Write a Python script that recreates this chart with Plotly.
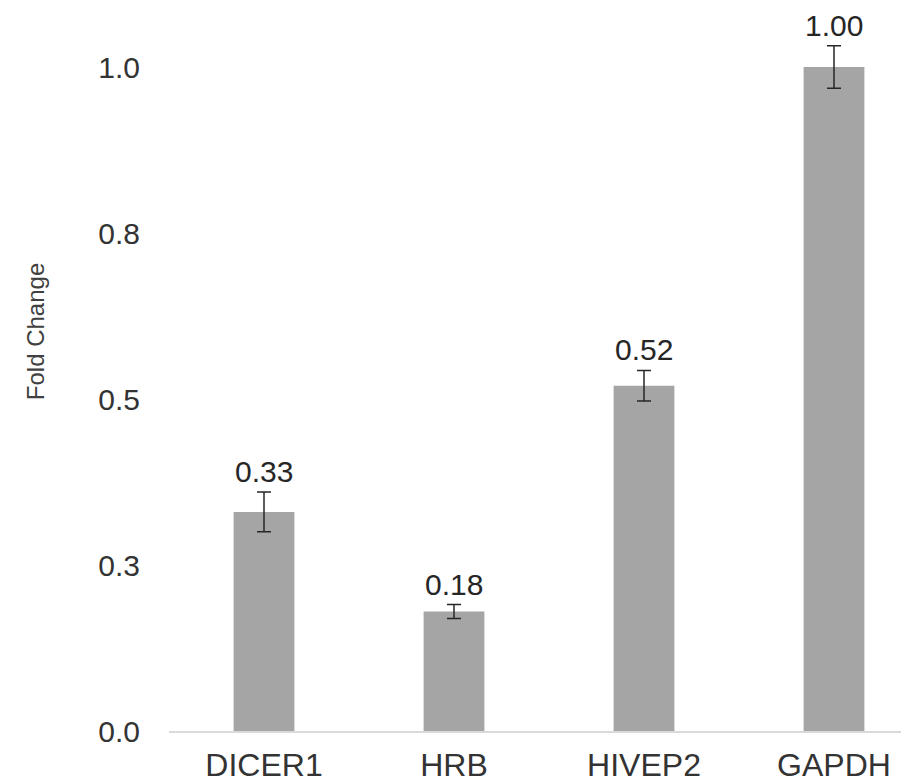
import plotly.graph_objects as go

genes = ["DICER1", "HRB", "HIVEP2", "GAPDH"]
fold_change = [0.33, 0.18, 0.52, 1.00]
errors = [0.030, 0.0105, 0.023, 0.032]
value_labels = ["0.33", "0.18", "0.52", "1.00"]
y_tick_vals = [0.0, 0.25, 0.5, 0.75, 1.0]
y_tick_text = ["0.0", "0.3", "0.5", "0.8", "1.0"]
y_title = "Fold Change"

FONT = "Liberation Sans, Arial, sans-serif"

fig = go.Figure()
fig.add_trace(go.Bar(
    x=genes, y=fold_change, width=0.32,
    marker=dict(color="#a5a5a5", line=dict(width=0)),
    error_y=dict(type="data", array=errors, visible=True,
                 color="#262626", thickness=1.5, width=7),
    showlegend=False, hoverinfo="skip",
))

for g, v, e, t in zip(genes, fold_change, errors, value_labels):
    fig.add_annotation(x=g, y=v + e, text=t, showarrow=False,
                       yanchor="bottom", yshift=2,
                       font=dict(family=FONT, size=30, color="#262626"))

# y-axis title placed as a rotated annotation (sits above the plot centre in the reference)
fig.add_annotation(xref="paper", yref="paper", x=-0.181, y=0.561,
                   text=y_title, textangle=-90, showarrow=False,
                   xanchor="center", yanchor="middle",
                   font=dict(family=FONT, size=24, color="#404040"))

# page body has an 8px default margin, so the figure is 8px smaller
fig.update_layout(
    width=901, height=774,
    margin=dict(l=161, r=0, t=12, b=51, autoexpand=False),
    paper_bgcolor="white", plot_bgcolor="white",
    font=dict(family=FONT, color="#333333"),
)
fig.update_xaxes(
    range=[-0.5, -0.5 + 740 / 190], automargin=False,
    showline=True, linecolor="#d9d9d9", linewidth=1.5,
    showgrid=False, zeroline=False, ticks="",
    tickfont=dict(family=FONT, size=32, color="#333333"),
    ticklabelstandoff=5,
)
fig.update_yaxes(
    range=[0, 711 / 664], automargin=False,
    tickvals=y_tick_vals, ticktext=y_tick_text,
    showline=False, showgrid=False, zeroline=False, ticks="",
    tickfont=dict(family=FONT, size=30, color="#333333"),
    ticklabelstandoff=28,
)

fig.write_html("out.html")
